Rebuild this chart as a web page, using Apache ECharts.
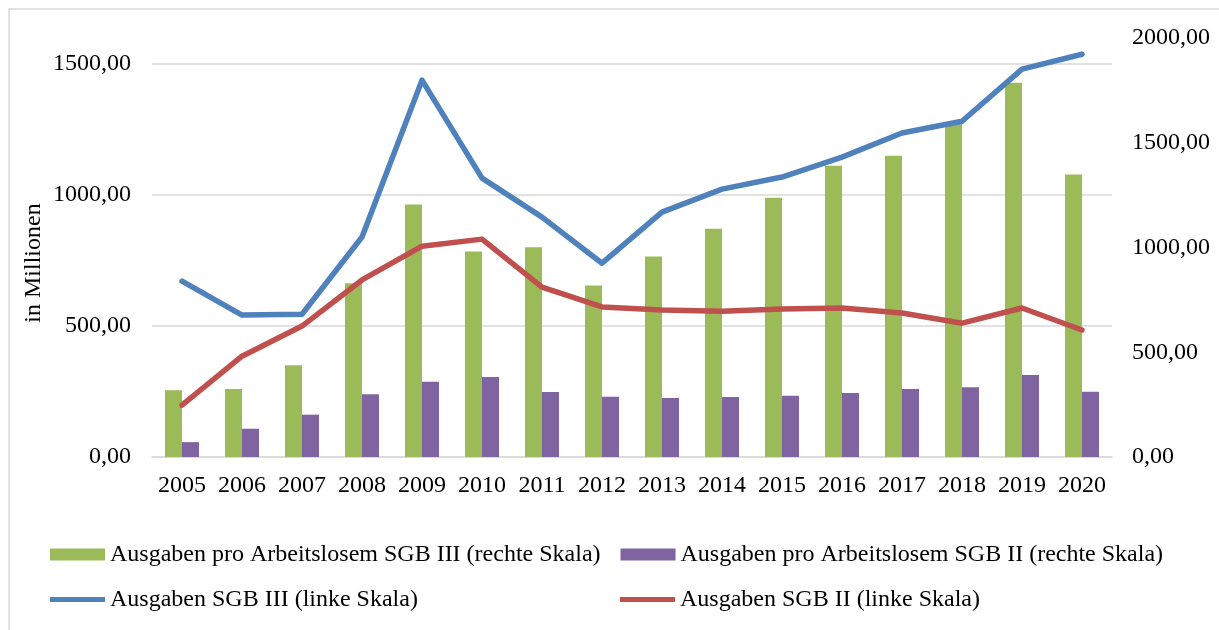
<!DOCTYPE html>
<html>
<head>
<meta charset="utf-8">
<script src="https://cdn.jsdelivr.net/npm/echarts@6/dist/echarts.min.js"></script>
<style>
  html, body { margin: 0; padding: 0; background: #fff; }
  #chart { width: 1219px; height: 630px; }
</style>
</head>
<body>
<div id="chart"></div>
<script>
// Jahre
const years = ["2005", "2006", "2007", "2008", "2009", "2010", "2011", "2012",
  "2013", "2014", "2015", "2016", "2017", "2018", "2019", "2020"];

// linke Skala (in Millionen)
const ausgabenSGB3 = [672, 542, 545, 840, 1439, 1065, 916, 740, 935, 1023, 1069, 1145, 1237, 1282, 1481, 1538];
const ausgabenSGB2 = [198, 385, 500, 676, 805, 832, 649, 573, 561, 557, 565, 569, 550, 511, 569, 485];

// rechte Skala
const proKopfSGB3 = [319, 325, 438, 829, 1205, 981, 1001, 819, 957, 1090, 1238, 1390, 1438, 1590, 1786, 1348];
const proKopfSGB2 = [71, 135, 202, 300, 359, 382, 310, 287, 282, 286, 292, 305, 325, 333, 392, 311];

const font = "Liberation Serif";
const green = "#9BBB59";
const purple = "#8064A2";
const blue = "#4F81BD";
const red = "#C0504D";

// deutsches Zahlenformat, zwei Nachkommastellen
const fmt = (v) => v.toFixed(2).replace(".", ",");

// Linien-Symbol in der Legende: schmaler Balken mittig in der Icon-Box
const lineIcon = "path://M0,0 M55,12 M0,3.5 L55,3.5 L55,8.5 L0,8.5 Z";

const chart = echarts.init(document.getElementById("chart"));

chart.setOption({
  animation: false,
  backgroundColor: "#fff",
  textStyle: { fontFamily: font, color: "#000" },
  graphic: [
    {
      type: "rect",
      shape: { x: 9, y: 9, width: 1300, height: 700 },
      style: { fill: "none", stroke: "#d9d9d9", lineWidth: 1.5 },
      silent: true
    },
    {
      type: "text",
      x: 34,
      y: 263,
      rotation: Math.PI / 2,
      style: {
        text: "in Millionen",
        fontFamily: font,
        fontSize: 24,
        fill: "#000",
        textAlign: "center",
        textVerticalAlign: "middle"
      }
    }
  ],
  grid: { left: 152, right: 107, top: 38, bottom: 173 },
  legend: {
    left: 50,
    top: 542,
    padding: 0,
    width: 1150,
    itemWidth: 55,
    itemHeight: 12,
    itemGap: 20,
    textStyle: { fontFamily: font, fontSize: 24, color: "#000", width: 490, lineHeight: 25 },
    data: [
      { name: "Ausgaben pro Arbeitslosem SGB III (rechte Skala)", icon: "rect" },
      { name: "Ausgaben pro Arbeitslosem SGB II (rechte Skala)", icon: "rect" },
      { name: "Ausgaben SGB III (linke Skala)", icon: lineIcon },
      { name: "Ausgaben SGB II (linke Skala)", icon: lineIcon }
    ]
  },
  xAxis: {
    type: "category",
    data: years,
    axisTick: { show: false },
    axisLine: { lineStyle: { color: "#d9d9d9", width: 1.5 } },
    axisLabel: { fontFamily: font, fontSize: 24, color: "#000", margin: 17, interval: 0 }
  },
  yAxis: [
    {
      type: "value",
      min: 0,
      max: 1600,
      interval: 500,
      axisLine: { show: false },
      axisTick: { show: false },
      axisLabel: {
        fontFamily: font, fontSize: 24, color: "#000", margin: 21,
        showMaxLabel: false,
        formatter: fmt
      },
      splitLine: { showMaxLine: false, lineStyle: { color: "#d9d9d9", width: 1.5 } }
    },
    {
      type: "value",
      min: 0,
      max: 2000,
      interval: 500,
      axisLine: { show: false },
      axisTick: { show: false },
      splitLine: { show: false },
      axisLabel: { fontFamily: font, fontSize: 24, color: "#000", margin: 20, formatter: fmt }
    }
  ],
  series: [
    {
      name: "Ausgaben pro Arbeitslosem SGB III (rechte Skala)",
      type: "bar",
      yAxisIndex: 1,
      data: proKopfSGB3,
      barWidth: 17,
      barGap: "0%",
      itemStyle: { color: green }
    },
    {
      name: "Ausgaben pro Arbeitslosem SGB II (rechte Skala)",
      type: "bar",
      yAxisIndex: 1,
      data: proKopfSGB2,
      barWidth: 17,
      barGap: "0%",
      itemStyle: { color: purple }
    },
    {
      name: "Ausgaben SGB III (linke Skala)",
      type: "line",
      yAxisIndex: 0,
      data: ausgabenSGB3,
      symbol: "none",
      itemStyle: { color: blue },
      lineStyle: { color: blue, width: 5.5, cap: "round", join: "round" }
    },
    {
      name: "Ausgaben SGB II (linke Skala)",
      type: "line",
      yAxisIndex: 0,
      data: ausgabenSGB2,
      symbol: "none",
      itemStyle: { color: red },
      lineStyle: { color: red, width: 5.5, cap: "round", join: "round" }
    }
  ]
});
</script>
</body>
</html>
